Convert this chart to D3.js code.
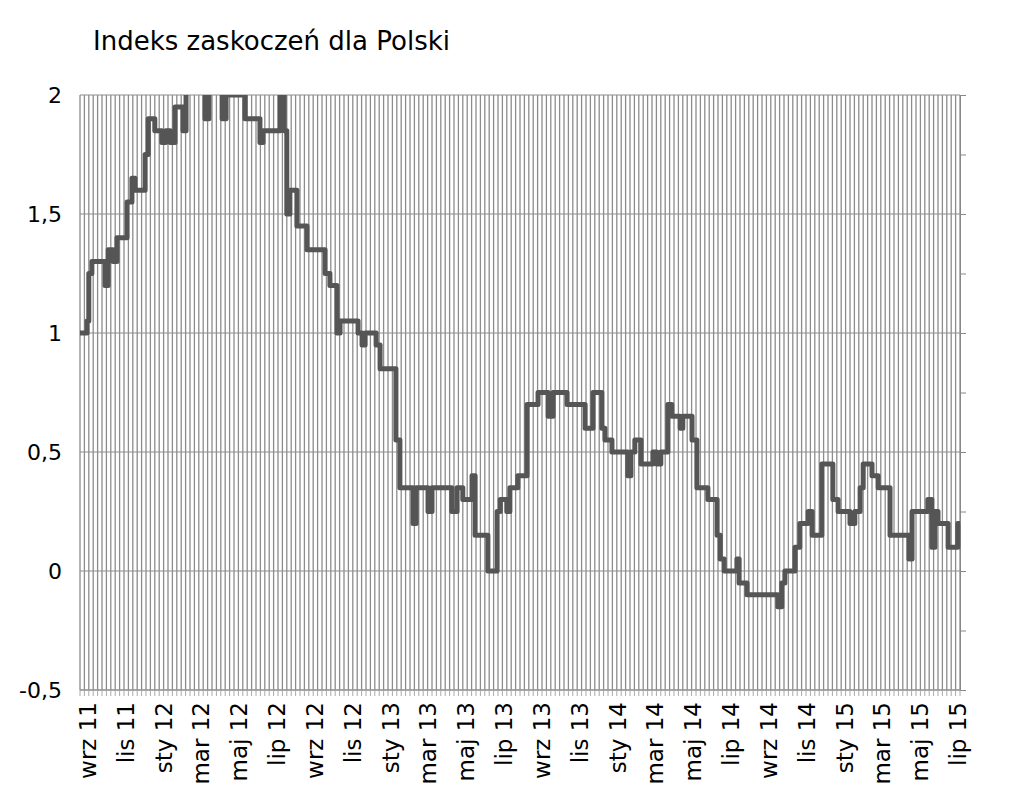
<!DOCTYPE html>
<html><head><meta charset="utf-8">
<script src="https://cdn.jsdelivr.net/npm/d3@7"></script>
<style>body{margin:0;background:#fff}text{font-family:"DejaVu Sans",Verdana,sans-serif}</style>
</head><body><svg id="c" width="1023" height="793"></svg>
<script>
const title = "Indeks zaskoczeń dla Polski";
const monthLabels = ["wrz 11","lis 11","sty 12","mar 12","maj 12","lip 12","wrz 12","lis 12","sty 13","mar 13","maj 13","lip 13","wrz 13","lis 13","sty 14","mar 14","maj 14","lip 14","wrz 14","lis 14","sty 15","mar 15","maj 15","lip 15"];
const yTicks = [-0.5,0,0.5,1,1.5,2];
const yTickLabels = ["-0,5","0","0,5","1","1,5","2"];
const totalWeeks = 200;
// step change points: week index where a new value starts
const stepWeeks = [0,1.6,2.0,2.7,5.7,6.4,7.5,8.4,10.7,11.8,12.5,14.8,15.5,17.0,18.6,19.5,20.5,21.6,23.4,24.1,28.4,29.3,32.3,33.2,37.5,40.9,41.6,45.5,46.4,47.0,47.7,49.3,51.6,55.7,56.8,58.4,59.1,63.2,64.1,64.8,67.3,68.2,71.8,72.7,75.7,76.4,79.1,80.0,84.5,85.7,87.0,89.1,89.8,92.7,94.8,95.5,97.0,97.7,99.5,101.6,104.1,106.4,107.5,110.7,114.8,116.6,118.6,119.3,120.9,124.5,125.2,126.1,127.5,130.2,131.1,132.0,133.6,134.5,136.4,137.0,139.1,140.2,142.7,144.8,145.5,146.4,149.3,149.8,151.6,158.6,159.5,160.2,162.5,163.6,165.5,166.4,168.6,171.1,172.3,175.0,176.1,177.3,178.0,180.0,181.4,184.1,188.4,189.1,192.7,193.6,194.3,195.0,197.3,199.5,200];
const stepValues = [1.0,1.05,1.25,1.3,1.2,1.35,1.3,1.4,1.55,1.65,1.6,1.75,1.9,1.85,1.8,1.85,1.8,1.95,1.85,2.05,1.9,2.05,1.9,2.0,1.9,1.8,1.85,2.05,1.85,1.5,1.6,1.45,1.35,1.25,1.2,1.0,1.05,1.0,0.95,1.0,0.95,0.85,0.55,0.35,0.2,0.35,0.25,0.35,0.25,0.35,0.3,0.4,0.15,0.0,0.25,0.3,0.25,0.35,0.4,0.7,0.75,0.65,0.75,0.7,0.6,0.75,0.6,0.55,0.5,0.4,0.5,0.55,0.45,0.5,0.45,0.5,0.7,0.65,0.6,0.65,0.55,0.35,0.3,0.15,0.05,0.0,0.05,-0.05,-0.1,-0.15,-0.05,0.0,0.1,0.2,0.25,0.15,0.45,0.3,0.25,0.2,0.25,0.35,0.45,0.4,0.35,0.15,0.05,0.25,0.3,0.1,0.25,0.2,0.1,0.2,0.2];

const svg = d3.select("#c");
const L=80,R=960,T=95,B=690;
const x = d3.scaleLinear().domain([0,totalWeeks]).range([L,R]);
const y = d3.scaleLinear().domain([-0.5,2]).range([B,T]);
const xl = d3.scalePoint().domain(monthLabels).range([88,958]);

svg.append("text").attr("x",93).attr("y",50).attr("font-size",26).attr("fill","#000").text(title);

svg.append("g").selectAll("line").data(d3.range(0,totalWeeks+1)).join("line")
 .attr("x1",d=>x(d)).attr("x2",d=>x(d)).attr("y1",T).attr("y2",B)
 .attr("stroke","#8c8c8c").attr("stroke-width",1.3);
svg.append("g").selectAll("line").data(yTicks).join("line")
 .attr("x1",L).attr("x2",R).attr("y1",d=>y(d)).attr("y2",d=>y(d))
 .attr("stroke","#8c8c8c").attr("stroke-width",1);
svg.append("g").selectAll("text").data(yTicks).join("text")
 .attr("x",62).attr("y",d=>y(d)+8).attr("text-anchor","end").attr("font-size",22).text((d,i)=>yTickLabels[i]);
const ra = svg.append("g").attr("transform",`translate(${R},0)`)
 .call(d3.axisRight(y).tickValues(d3.range(-0.5,2.01,0.25)).tickSize(6).tickFormat(""));
ra.selectAll("path,line").attr("stroke","#888");
svg.append("line").attr("x1",L).attr("x2",R).attr("y1",B).attr("y2",B).attr("stroke","#888");
svg.append("g").selectAll("line").data(d3.range(0,totalWeeks+1)).join("line")
 .attr("x1",d=>x(d)).attr("x2",d=>x(d)).attr("y1",B).attr("y2",B+6).attr("stroke","#aaa");
svg.append("g").selectAll("text").data(monthLabels).join("text")
 .attr("transform",d=>`translate(${xl(d)+8},702) rotate(-90)`).attr("text-anchor","end").attr("font-size",23).text(d=>d);

svg.append("clipPath").attr("id","cp").append("rect").attr("x",L-5).attr("y",T).attr("width",R-L+10).attr("height",B-T);
const pts = stepWeeks.map((w,i)=>[w,stepValues[i]]);
svg.append("path").datum(pts).attr("clip-path","url(#cp)")
 .attr("d",d3.line().x(d=>x(d[0])).y(d=>y(d[1])).curve(d3.curveStepAfter))
 .attr("fill","none").attr("stroke","#555").attr("stroke-width",5).attr("stroke-linejoin","round");
</script></body></html>
